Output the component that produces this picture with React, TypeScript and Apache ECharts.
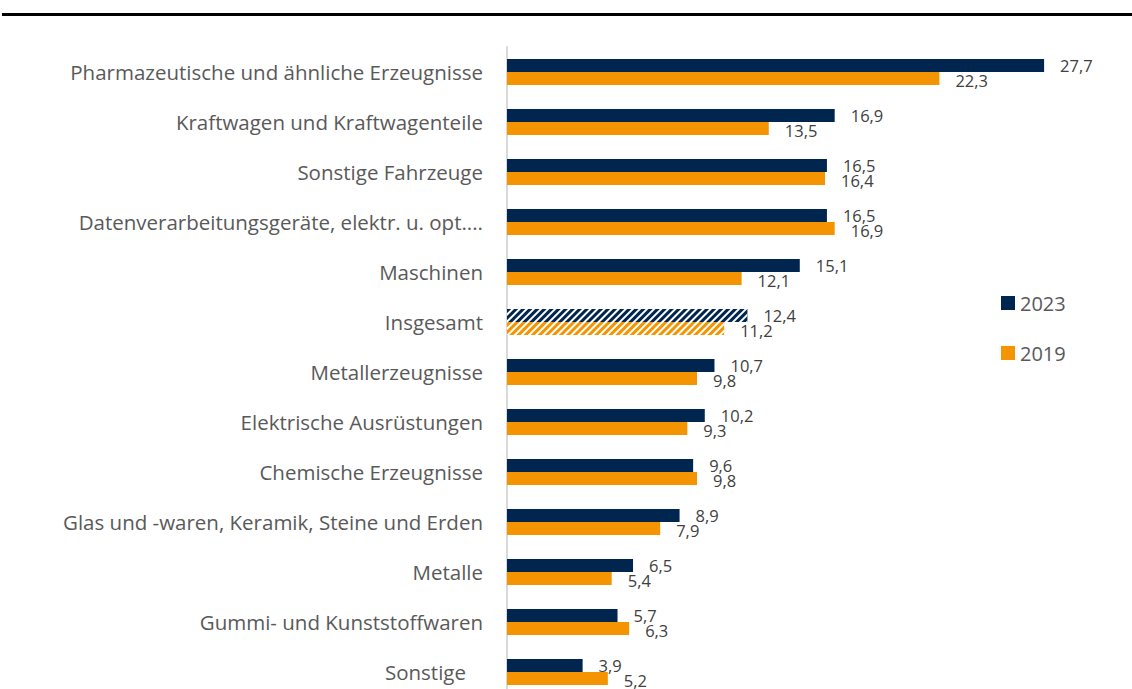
import React, { useEffect, useRef } from "react";
import * as echarts from "echarts";

const categories = [
  "Pharmazeutische und ähnliche Erzeugnisse",
  "Kraftwagen und Kraftwagenteile",
  "Sonstige Fahrzeuge",
  "Datenverarbeitungsgeräte, elektr. u. opt....",
  "Maschinen",
  "Insgesamt",
  "Metallerzeugnisse",
  "Elektrische Ausrüstungen",
  "Chemische Erzeugnisse",
  "Glas und -waren, Keramik, Steine und Erden",
  "Metalle",
  "Gummi- und Kunststoffwaren",
  "Sonstige",
];
const values2023 = [27.7, 16.9, 16.5, 16.5, 15.1, 12.4, 10.7, 10.2, 9.6, 8.9, 6.5, 5.7, 3.9];
const values2019 = [22.3, 13.5, 16.4, 16.9, 12.1, 11.2, 9.8, 9.3, 9.8, 7.9, 5.4, 6.3, 5.2];
const seriesNames = ["2023", "2019"];
const hatchedCategory = "Insgesamt";

const NAVY = "#00264f";
const ORANGE = "#f39400";
const FONT = "'Open Sans', sans-serif";

const fmt = (v: number) => v.toFixed(1).replace(".", ",");

export default function App() {
  const ref = useRef<HTMLDivElement>(null);
  useEffect(() => {
    if (!ref.current) return;
    const chart = echarts.init(ref.current, null, { renderer: "svg" });
    const hatchDecal = {
      symbol: "rect",
      symbolSize: 1,
      dashArrayX: [1, 0],
      dashArrayY: [2, 3],
      rotation: -Math.PI / 4,
      color: "#ffffff",
    };
    const mk = (vals: number[], color: string) =>
      vals.map((v, i) =>
        categories[i] === hatchedCategory
          ? { value: v, itemStyle: { color, decal: hatchDecal } }
          : { value: v }
      );
    const valueLabel = (dy: number) => ({
      show: true,
      position: "right",
      distance: 16,
      offset: [0, dy],
      fontSize: 16.5,
      color: "#404040",
      fontFamily: FONT,
      formatter: (p: any) => fmt(p.value),
    });
    chart.setOption({
      animation: false,
      textStyle: { fontFamily: FONT },
      grid: { left: 507, top: 47, height: 650, width: 30 * 19.39 },
      xAxis: {
        type: "value",
        min: 0,
        max: 30,
        show: false,
      },
      yAxis: {
        type: "category",
        data: categories,
        inverse: true,
        axisTick: { show: false },
        axisLine: { show: true, lineStyle: { color: "#d9d9d9", width: 2 } },
        axisLabel: {
          margin: 24,
          fontSize: 20.5,
          color: "#595959",
          fontFamily: FONT,
          formatter: (v: string) => (v === "Sonstige" ? `{p|${v}}` : v),
          rich: {
            p: { fontSize: 20.5, color: "#595959", fontFamily: FONT, padding: [0, 17, 0, 0] },
          },
        },
      },
      legend: {
        orient: "vertical",
        left: 996,
        top: 288,
        itemWidth: 14,
        itemHeight: 14,
        itemGap: 30,
        icon: "rect",
        textStyle: { fontSize: 20, color: "#595959", fontFamily: FONT },
        data: seriesNames,
      },
      series: [
        {
          name: seriesNames[0],
          type: "bar",
          data: mk(values2023, NAVY),
          barWidth: 13,
          barGap: "0%",
          itemStyle: { color: NAVY },
          label: valueLabel(0),
        },
        {
          name: seriesNames[1],
          type: "bar",
          data: mk(values2019, ORANGE),
          barWidth: 13,
          barGap: "0%",
          itemStyle: { color: ORANGE },
          label: valueLabel(2),
        },
      ],
      graphic: [
        {
          type: "line",
          shape: { x1: 2, y1: 14.5, x2: 1132, y2: 14.5 },
          style: { stroke: "#000", lineWidth: 3 },
        },
      ],
    });
    return () => chart.dispose();
  }, []);
  return (
    <div style={{ position: "absolute", left: 0, top: 0, width: 1132, height: 689, overflow: "hidden" }}>
      <div ref={ref} style={{ width: 1132, height: 700 }} />
    </div>
  );
}
